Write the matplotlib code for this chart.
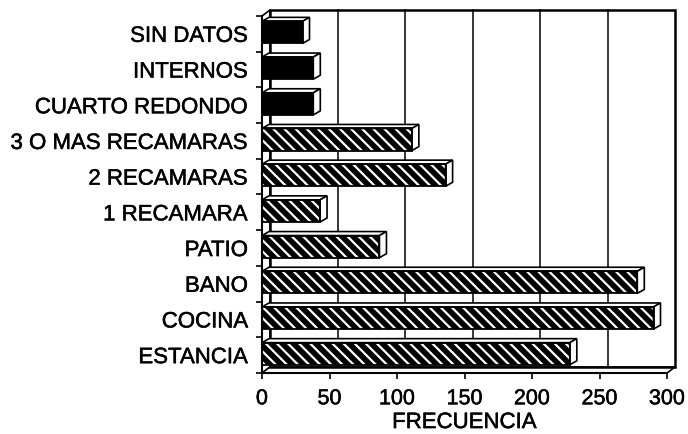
import matplotlib.pyplot as plt
import matplotlib.patheffects as pe
from matplotlib.patches import Rectangle, Polygon

plt.rcParams['font.family'] = ['Liberation Sans', 'DejaVu Sans']
plt.rcParams['hatch.linewidth'] = 1.6

# datos (de abajo hacia arriba)
categorias = ['ESTANCIA', 'COCINA', 'BANO', 'PATIO', '1 RECAMARA', '2 RECAMARAS',
              '3 O MAS RECAMARAS', 'CUARTO REDONDO', 'INTERNOS', 'SIN DATOS']
frecuencia = [228, 290, 278, 87, 43, 136, 111, 38, 38, 30]
xticks = [0, 50, 100, 150, 200, 250, 300]

W, H = 688, 434
fig = plt.figure(figsize=(W / 100, H / 100), dpi=100)
ax = fig.add_axes([262 / W, 61 / H, 405 / W, 357 / H])

XMAX = 300
n = len(categorias)
ax.set_xlim(0, XMAX)
ax.set_ylim(-0.5, n - 0.5)

# pixeles -> unidades de datos
px_x = XMAX / 405
px_y = n / 357
bx, by = 8 * px_x, 6 * px_y      # profundidad de la pared del fondo
dx, dy = 7 * px_x, 4 * px_y      # profundidad de cada barra
y0, y1 = -0.5, n - 0.5

# pared del fondo, piso y pared izquierda
ax.add_patch(Polygon([(0, y0), (0, y1), (bx, y1 + by), (bx, y0 + by)],
                     closed=True, facecolor='white', edgecolor='black', lw=1.2, clip_on=False))
ax.add_patch(Polygon([(0, y0), (XMAX, y0), (XMAX + bx, y0 + by), (bx, y0 + by)],
                     closed=True, facecolor='white', edgecolor='black', lw=1.2, clip_on=False))
ax.add_patch(Rectangle((bx, y0 + by), XMAX, n, fill=False, edgecolor='black',
                       lw=1.8, clip_on=False))
for t in xticks[1:-1]:
    ax.plot([t + bx, t + bx], [y0 + by, y1 + by], color='black', lw=1.1,
            clip_on=False, zorder=1)


def barra3d(ax, y, val, rayada):
    h = 0.62
    yb = y - h / 2 + 0.04
    yt = yb + h
    if rayada:
        ax.add_patch(Rectangle((0, yb), val, h, facecolor='black', edgecolor='white',
                               hatch='\\\\\\', lw=0, clip_on=False, zorder=3))
    else:
        ax.add_patch(Rectangle((0, yb), val, h, facecolor='black', lw=0,
                               clip_on=False, zorder=3))
    ax.add_patch(Rectangle((0, yb), val, h, fill=False, edgecolor='black', lw=1.3,
                           clip_on=False, zorder=4))
    ax.add_patch(Polygon([(0, yt), (val, yt), (val + dx, yt + dy), (dx, yt + dy)],
                         closed=True, facecolor='white', edgecolor='black', lw=1.2,
                         clip_on=False, zorder=3))
    ax.add_patch(Polygon([(val, yb), (val, yt), (val + dx, yt + dy), (val + dx, yb + dy)],
                         closed=True, facecolor='white', edgecolor='black', lw=1.2,
                         clip_on=False, zorder=3))


for i, v in enumerate(frecuencia):
    barra3d(ax, i, v, i < n - 3)

ax.spines['top'].set_visible(False)
ax.spines['right'].set_visible(False)
ax.spines['left'].set_linewidth(1.5)
ax.spines['bottom'].set_linewidth(1.5)
ax.spines['left'].set_zorder(5)
ax.spines['bottom'].set_zorder(5)

ax.set_xticks(xticks)
ax.set_xticklabels([str(t) for t in xticks], fontsize=15.5)
ax.tick_params(axis='x', length=4, width=1.2, pad=7, colors='black')

# etiquetas de categoria sin tick propio; ticks en los limites de filas
ax.set_yticks([i for i in range(n)])
ax.set_yticklabels(categorias, fontsize=16)
ax.tick_params(axis='y', length=0, pad=10)
ax.set_yticks([i - 0.5 for i in range(n + 1)], minor=True)
ax.tick_params(axis='y', which='minor', length=4, width=1.2)

ax.set_xlabel('FRECUENCIA', fontsize=16, labelpad=2)
ax.set_facecolor('none')

# el texto escaneado se ve algo mas grueso
grueso = [pe.withStroke(linewidth=0.35, foreground='black')]
for t in ax.get_xticklabels() + ax.get_yticklabels() + [ax.xaxis.label]:
    t.set_path_effects(grueso)

fig.savefig('out.png', dpi=100)
